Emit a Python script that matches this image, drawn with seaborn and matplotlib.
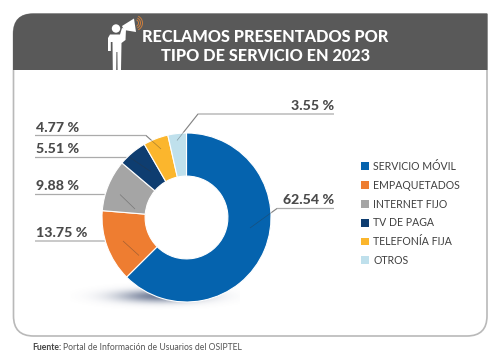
import numpy as np
import seaborn as sns
import matplotlib.pyplot as plt
from matplotlib.patches import PathPatch, Circle, Polygon, Arc
from matplotlib.path import Path

categories = ["SERVICIO MÓVIL", "EMPAQUETADOS", "INTERNET FIJO", "TV DE PAGA", "TELEFONÍA FIJA", "OTROS"]
values = [62.54, 13.75, 9.88, 5.51, 4.77, 3.55]
value_labels = ["62.54 %", "13.75 %", "9.88 %", "5.51 %", "4.77 %", "3.55 %"]
colors = ["#0563ae", "#ee7d31", "#a5a5a5", "#0e3d70", "#fbb62d", "#bfe0ec"]
title_lines = ["RECLAMOS PRESENTADOS POR", "TIPO DE SERVICIO EN 2023"]

sns.set_theme(style="white")
plt.rcParams["font.family"] = ["Lato", "DejaVu Sans"]

fig = plt.figure(figsize=(5, 3.61), dpi=100)

# background layer in pixel coords
bg = fig.add_axes([0, 0, 1, 1])
bg.set_xlim(0, 500)
bg.set_ylim(361, 0)
bg.axis("off")

# card outline: top right corner is square, the others are rounded
x0, y0, x1, y1, r = 13.5, 14, 487, 336, 20
verts = [(x1, y0), (x0 + r, y0), (x0, y0), (x0, y0 + r), (x0, y1 - r), (x0, y1), (x0 + r, y1),
         (x1 - r, y1), (x1, y1), (x1, y1 - r), (x1, y0)]
codes = [Path.MOVETO, Path.LINETO, Path.CURVE3, Path.CURVE3, Path.LINETO, Path.CURVE3, Path.CURVE3,
         Path.LINETO, Path.CURVE3, Path.CURVE3, Path.LINETO]
bg.add_patch(PathPatch(Path(verts, codes), fc="white", ec="#b9b9b9", lw=1.2))

# header
hv = [(487.5, 13.5), (33, 13.5), (13, 13.5), (13, 34), (13, 70), (487.5, 70), (487.5, 13.5)]
hc = [Path.MOVETO, Path.LINETO, Path.CURVE3, Path.CURVE3, Path.LINETO, Path.LINETO, Path.LINETO]
bg.add_patch(PathPatch(Path(hv, hc), fc="#595959", ec="none"))

# man with megaphone
bg.add_patch(Circle((116, 28.5), 4.2, fc="white", ec="none"))
bg.add_patch(Polygon([(108, 38), (110, 34.5), (120, 34.5), (122, 28), (126, 29), (125.5, 40), (121.5, 43),
                      (121, 70), (117.6, 70), (117.4, 52), (116.4, 52), (116.2, 70), (112.8, 70),
                      (112.5, 42), (110.8, 42), (110.8, 51), (108, 51)], fc="white", ec="none"))
bg.add_patch(Polygon([(122, 26), (134, 18.5), (136, 32), (124, 30)], fc="white", ec="none"))
for rad in [3.5, 5.5, 7.5]:
    bg.add_patch(Arc((135, 23), 2 * rad, 2 * rad, theta1=-65, theta2=65, color="#cf7f3c", lw=0.7))

for ty, line in zip([36.5, 56], title_lines):
    bg.text(265.5, ty, line, color="white", fontsize=11.7, fontweight=900, ha="center", va="center")

# soft shadow below the ring
gx, gy = np.meshgrid(np.linspace(70, 240, 170), np.linspace(282, 314, 32))
rgba = np.zeros((32, 170, 4))
rgba[..., :3] = (0.27, 0.33, 0.47)
rgba[..., 3] = 0.75 * np.exp(-((gx - 160) / 42) ** 2) * np.exp(-((gy - 296) / 6.5) ** 2)
bg.imshow(rgba, extent=(70, 240, 314, 282), aspect="auto", zorder=1, interpolation="bilinear")
bg.set_xlim(0, 500)
bg.set_ylim(361, 0)

# leader lines and value labels
leaders = [
    [(334, 208.5), (277, 208.5), (250, 228)],
    [(35, 241), (123, 241), (139, 255.5)],
    [(35, 194.5), (120, 194.5), (135, 209)],
    [(35, 157.5), (130, 157.5), (150.5, 171.5)],
    [(35, 135.5), (146, 135.5), (161, 149)],
    [(334, 114), (198, 114), (177, 140.5)],
]
label_pos = [(334, 200), (36, 233), (36, 186), (36, 149), (36, 127.5), (334, 106)]
for pts in leaders:
    bg.plot(*zip(*pts), color="#ababab", lw=0.9, solid_capstyle="butt", zorder=2)

# donut
cx, cy, R = 186.5, 217.5, 84.5
ax = fig.add_axes([(cx - R) / 500, 1 - (cy + R) / 361, 2 * R / 500, 2 * R / 361])
wedges, _ = ax.pie(values, colors=colors, startangle=90, counterclock=False, radius=1,
                   wedgeprops=dict(width=0.51, edgecolor="white", linewidth=0.8))
ax.set_xlim(-1, 1)
ax.set_ylim(-1, 1)

top = fig.add_axes([0, 0, 1, 1])
top.set_xlim(0, 500)
top.set_ylim(361, 0)
top.axis("off")
for pts, pos, lab in zip(leaders, label_pos, value_labels):
    top.plot(*zip(*pts[1:]), color="#333333", lw=0.5, alpha=0.4, solid_capstyle="butt")
    top.text(pos[0], pos[1], lab, color="#4a4a4a", fontsize=10.2, fontweight=900,
             ha="right" if pos[0] > 200 else "left", va="center")

leg = top.legend(wedges, categories, loc="upper left", bbox_to_anchor=(361 / 500, 1 - 161 / 361),
                 bbox_transform=fig.transFigure, frameon=False, fontsize=7.6, handlelength=0.76, handleheight=0.76,
                 handletextpad=0.38, labelspacing=0.74, borderpad=0, borderaxespad=0, labelcolor="#3f3f3f")
for h in leg.legend_handles:
    h.set_edgecolor("none")

top.text(32, 347, "Fuente:", color="#444444", fontsize=6.2, fontweight="bold", va="center")
top.text(63, 347, "Portal de Información de Usuarios del OSIPTEL", color="#555555", fontsize=6.2, va="center")

fig.savefig("out.png", dpi=100)
